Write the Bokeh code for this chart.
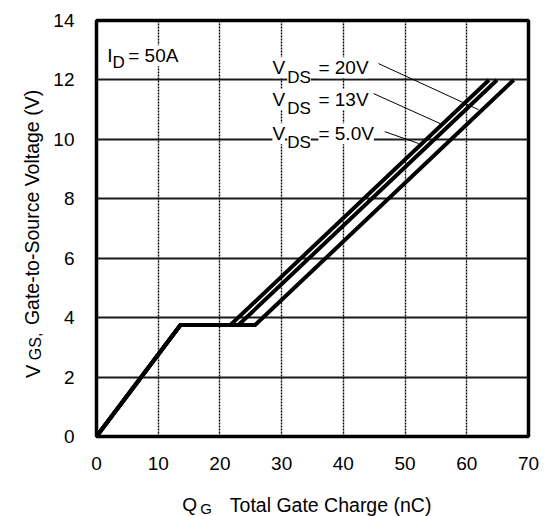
import math
from bokeh.plotting import figure
from bokeh.models import Range1d, FixedTicker, Label
from bokeh.core.properties import value
from bokeh.embed import file_html
from bokeh.resources import INLINE

# ---- data ----
x_ticks = [0, 10, 20, 30, 40, 50, 60, 70]
y_ticks = [0, 2, 4, 6, 8, 10, 12, 14]

qg_20v = [0, 13.6, 21.7, 63.6]
vgs_20v = [0, 3.75, 3.75, 12.0]

qg_13v = [0, 13.6, 23.0, 64.9]
vgs_13v = [0, 3.75, 3.75, 12.0]

qg_5v = [0, 13.6, 25.7, 67.6]
vgs_5v = [0, 3.75, 3.75, 12.0]

series = [(qg_20v, vgs_20v), (qg_13v, vgs_13v), (qg_5v, vgs_5v)]

FONT = "Liberation Sans"

p = figure(width=544, height=516, output_backend="svg", toolbar_location=None,
           title=None, x_range=Range1d(0, 70), y_range=Range1d(0, 14),
           min_border_left=96, min_border_right=16, min_border_top=20,
           min_border_bottom=80)
p.background_fill_color = "white"
p.border_fill_color = "white"
p.outline_line_color = "black"
p.outline_line_width = 3.5

# axes
p.xaxis.ticker = FixedTicker(ticks=x_ticks)
p.yaxis.ticker = FixedTicker(ticks=y_ticks)
for ax in (p.xaxis[0], p.yaxis[0]):
    ax.axis_line_color = None
    ax.major_tick_line_color = None
    ax.minor_tick_line_color = None
    ax.major_tick_out = 0
    ax.major_tick_in = 0
    ax.minor_tick_out = 0
    ax.major_label_text_font = FONT
    ax.major_label_text_font_size = "19px"
    ax.major_label_text_color = "black"
p.xaxis.major_label_standoff = 20
p.yaxis.major_label_standoff = 22

# grids
p.xgrid.grid_line_color = "black"
p.xgrid.grid_line_width = 1.4
p.xgrid.grid_line_dash = "2 1"
p.ygrid.grid_line_color = "#1a1a1a"
p.ygrid.grid_line_width = 2

# curves
for xs, ys in series:
    p.line(xs, ys, line_color="black", line_width=4, line_join="miter")

# leader lines
for (x0, y0, x1, y1) in [(45.7, 12.55, 61.9, 11.0),
                         (44.9, 11.54, 55.7, 10.53),
                         (46.7, 10.26, 52.2, 9.86)]:
    p.line([x0, x1], [y0, y1], line_color="black", line_width=1)


def lab(x, y, text, size):
    p.add_layout(Label(x=x, y=y, text=text, text_font=FONT,
                       text_font_size=size, text_color="black",
                       text_baseline="alphabetic", text_align="left",
                       background_fill_color="white"))


# I_D = 50A
lab(1.74, 12.81, "I", "19px")
lab(2.6, 12.58, "D", "17px")
lab(5.14, 12.81, "= 50A", "19px")

# V_DS labels
for main_y, sub_y, txt in [(12.41, 12.07, "= 20V"),
                           (11.34, 11.03, "= 13V"),
                           (10.19, 9.89, "= 5.0V")]:
    lab(28.5, main_y, "V", "19px")
    lab(30.9, sub_y, "DS", "17px")
    lab(35.96, main_y, txt, "19px")


# axis titles drawn as unclipped text (overlay level) outside the frame
def outer_text(x, y, text, size, angle=0.0):
    p.text(x=[x], y=[y], text=[text], text_font=value(FONT),
           text_font_size=value(size), text_color="black",
           text_baseline="alphabetic", text_align="left", angle=angle,
           level="overlay")


outer_text(13.9, -2.30, "Q", "19px")
outer_text(16.8, -2.41, "G", "15px")
outer_text(21.6, -2.30, "Total Gate Charge (nC)", "19.5px")

outer_text(-10.27, 1.97, "V", "20px", angle=math.pi / 2)
outer_text(-9.94, 2.57, "GS,", "16px", angle=math.pi / 2)
outer_text(-10.43, 3.75, "Gate-to-Source Voltage (V)", "19.5px", angle=math.pi / 2)

open("out.html", "w").write(file_html(p, INLINE))
